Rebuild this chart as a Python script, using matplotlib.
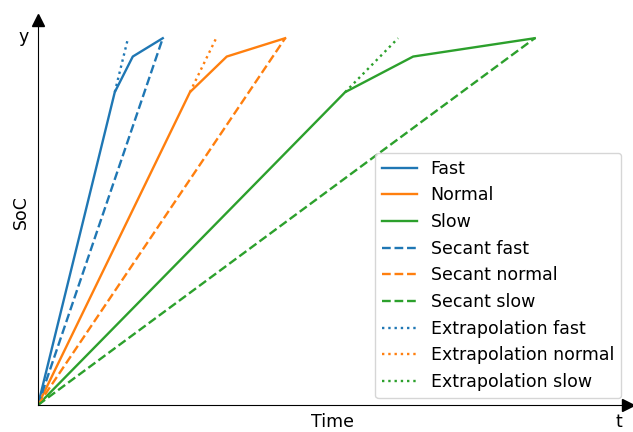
import numpy as np
import matplotlib.pyplot as plt

# Charging curves: time and state of charge at the breakpoints
soc = [0.0, 0.853, 0.95, 1.0]
t_fast = [0.0, 19.2, 23.7, 31.2]
t_normal = [0.0, 38.0, 47.2, 61.8]
t_slow = [0.0, 76.8, 93.8, 124.2]

names = ['fast', 'normal', 'slow']
colors = ['tab:blue', 'tab:orange', 'tab:green']
times = [t_fast, t_normal, t_slow]

plt.rcParams['font.size'] = 12.5
plt.rcParams['lines.linewidth'] = 1.7

fig = plt.figure(figsize=(6.33, 4.32), dpi=100)
ax = fig.add_axes([0.060, 0.0625, 0.932, 0.8915])

# Measured curves
for t, c, n in zip(times, colors, names):
    ax.plot(t, soc, color=c, label=n.capitalize())

# Secant from start to full charge
for t, c, n in zip(times, colors, names):
    ax.plot([t[0], t[-1]], [soc[0], soc[-1]], '--', color=c,
            label='Secant ' + n)

# Extrapolate the first segment up to full charge
for t, c, n in zip(times, colors, names):
    slope = soc[1] / t[1]
    t_end = soc[-1] / slope
    ax.plot([t[1], t_end], [soc[1], soc[-1]], ':', color=c,
            label='Extrapolation ' + n)

ax.set_xlim(0, 147.5)
ax.set_ylim(0, 1.05)
ax.set_xticks([])
ax.set_yticks([])
ax.spines['top'].set_visible(False)
ax.spines['right'].set_visible(False)

# Arrow heads on the axes
ax.plot(1, 0, '>k', markersize=9, transform=ax.transAxes, clip_on=False)
ax.plot(0, 1, '^k', markersize=9, transform=ax.transAxes, clip_on=False)
ax.text(-0.015, 0.955, 'y', transform=ax.transAxes, ha='right', va='center')
ax.text(0.985, -0.045, 't', transform=ax.transAxes, ha='center', va='center')

ax.set_xlabel('Time', labelpad=6)
ax.set_ylabel('SoC', labelpad=6)
ax.legend(loc='lower right', borderaxespad=0.4)

fig.savefig('out.png', dpi=100)
